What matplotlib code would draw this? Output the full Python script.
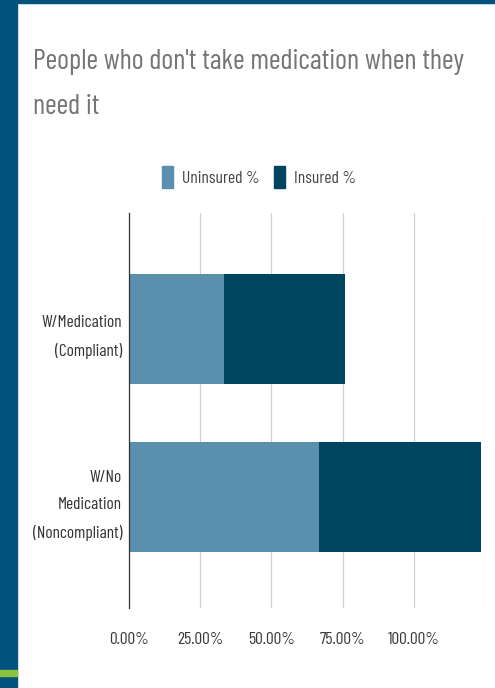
import matplotlib
matplotlib.use("Agg")
import matplotlib.pyplot as plt
from matplotlib import font_manager as fm
from matplotlib.patches import Rectangle, Patch
from matplotlib.textpath import TextPath
from matplotlib.ticker import FuncFormatter

# ------------------------------------------------------------
# data
# ------------------------------------------------------------
categories = ["W/Medication\n(Compliant)", "W/No\nMedication\n(Noncompliant)"]
uninsured = [0.334, 0.668]
insured = [0.424, 0.568]
series_names = ["Uninsured %", "Insured %"]
x_ticks = [0, 0.25, 0.50, 0.75, 1.00, 1.25]
title = "People who don't take medication when they\nneed it"

col_unins = "#5a8fad"
col_ins = "#00455f"
band_col = "#02527e"

# the source uses a very narrow sans; take the first condensed family found
avail = {f.name for f in fm.fontManager.ttflist}
font = next(f for f in ["Barlow Condensed", "Roboto Condensed",
                        "Fira Sans Extra Condensed", "DejaVu Sans"] if f in avail)
plt.rcParams["font.family"] = [font, "DejaVu Sans"]
fp = fm.FontProperties(family=font)


def fit_size(s, target_px):
    # font size (pt) that makes text s about target_px wide at dpi 100
    w10 = TextPath((0, 0), s, size=10, prop=fp).get_extents().width
    return target_px * 0.72 / (w10 / 10)


fs_title = fit_size("People who don't take medication when they", 430)
fs_cat = fit_size("W/Medication", 79)
fs_tick = fit_size("100.00%", 51)
fs_leg = fit_size("Uninsured %", 75)

fig = plt.figure(figsize=(4.95, 6.88), dpi=100)
fig.patch.set_facecolor("white")

# slide decoration: blue band left + top, green marker
fig.patches.append(Rectangle((0, 0), 17 / 495, 1, transform=fig.transFigure,
                             color=band_col, zorder=0))
fig.patches.append(Rectangle((0, 1 - 2.5 / 688), 1, 2.5 / 688, transform=fig.transFigure,
                             color=band_col, zorder=0))
fig.patches.append(Rectangle((0, 1 - 676 / 688), 17 / 495, 6 / 688, transform=fig.transFigure,
                             color="#8cc43f", zorder=1))

ax = fig.add_axes([129 / 495, 1 - 608 / 688, 356 / 495, 395 / 688])

ypos = list(range(len(categories)))
ax.barh(ypos, uninsured, height=0.65, color=col_unins, label=series_names[0], zorder=3)
ax.barh(ypos, insured, left=uninsured, height=0.65, color=col_ins, label=series_names[1], zorder=3)

ax.set_xlim(0, 1.25)
ax.set_ylim(1.66, -0.69)
ax.set_xticks(x_ticks)
ax.xaxis.set_major_formatter(FuncFormatter(lambda v, p: "" if v > 1.01 else f"{v * 100:.2f}%"))
ax.set_yticks(ypos)
ax.set_yticklabels(categories, fontsize=fs_cat, color="#333333", linespacing=2.0)

ax.tick_params(axis="x", length=0, pad=17, labelsize=fs_tick, labelcolor="#3a3a3a")
ax.tick_params(axis="y", length=0, pad=5)
ax.grid(axis="x", color="#d0d0d0", linewidth=0.9, zorder=0)
for s in ["top", "right", "bottom"]:
    ax.spines[s].set_visible(False)
ax.spines["left"].set_color("#333333")
ax.spines["left"].set_linewidth(0.9)
ax.spines["left"].set_zorder(4)

# legend (tall narrow swatches like the source)
px = fs_leg * 100 / 72
handles = [Patch(color=col_unins), Patch(color=col_ins)]
fig.legend(handles, series_names, loc="center", bbox_to_anchor=(259 / 495, 1 - 177 / 688),
           ncol=2, frameon=False, fontsize=fs_leg, handlelength=11 / px, handleheight=28 / px,
           handletextpad=9 / px, columnspacing=14 / px, labelcolor="#444444")

# title
fig.text(33 / 495, 1 - 49 / 688, title,
         fontsize=fs_title, color="#757575", va="top", ha="left", linespacing=1.95)

fig.savefig("out.png", dpi=100)
